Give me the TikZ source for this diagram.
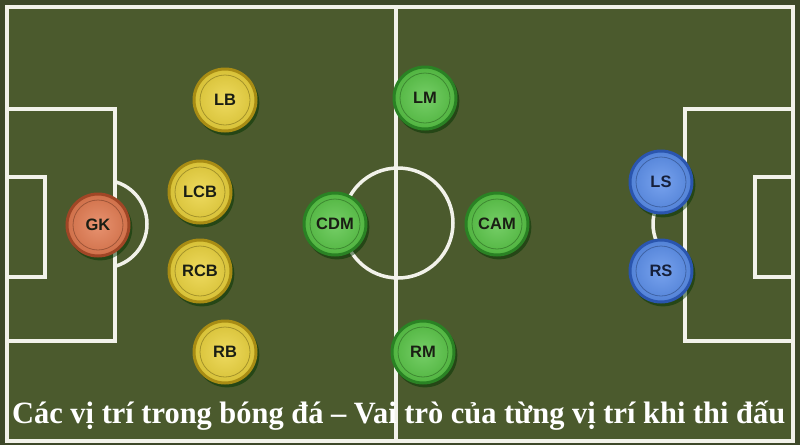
\documentclass[tikz,border=0pt]{standalone}
\usepackage{fontspec}
\usepackage{graphicx}
\setmainfont{Liberation Serif}
\newfontfamily\discfont{Liberation Sans}
\usetikzlibrary{shadows}
\definecolor{outerbg}{HTML}{3E4929}
\definecolor{fieldgreen}{HTML}{4B5A2D}
\definecolor{linewhite}{HTML}{F2F2EA}
\definecolor{yelface}{HTML}{EAD23C}
\definecolor{yelrim}{HTML}{A88C14}
\definecolor{orface}{HTML}{E27A50}
\definecolor{orrim}{HTML}{A04626}
\definecolor{grface}{HTML}{58C446}
\definecolor{grrim}{HTML}{2A8224}
\definecolor{blface}{HTML}{5A8EEA}
\definecolor{blrim}{HTML}{2A55AE}
\definecolor{disctext}{HTML}{1A1E14}
\definecolor{bltext}{HTML}{16203A}
\tikzset{
  fieldline/.style={draw=linewhite, line width=3.5pt},
  disc/.style={circle, minimum size=62pt, inner sep=0pt, line width=3pt,
    font=\discfont\bfseries\fontsize{16.5}{16.5}\selectfont, text=disctext,
    general shadow={fill=black!80!green, opacity=0.5, shadow xshift=2pt, shadow yshift=-3pt, shadow scale=1.04}},
  yel/.style={disc, draw=yelrim, inner color=yelface!82!white, outer color=yelface!92!black,
    path picture={\draw[yelface!70!black, line width=0.8pt] (path picture bounding box.center) circle[radius=25pt];}},
  ora/.style={disc, draw=orrim, inner color=orface!82!white, outer color=orface!92!black,
    path picture={\draw[orface!70!black, line width=0.8pt] (path picture bounding box.center) circle[radius=25pt];}},
  gre/.style={disc, draw=grrim, inner color=grface!82!white, outer color=grface!92!black,
    path picture={\draw[grface!70!black, line width=0.8pt] (path picture bounding box.center) circle[radius=25pt];}},
  blu/.style={disc, draw=blrim, inner color=blface!82!white, outer color=blface!92!black, text=bltext,
    path picture={\draw[blface!70!black, line width=0.8pt] (path picture bounding box.center) circle[radius=25pt];}},
  caption/.style={text=white, font=\bfseries\fontsize{31}{31}\selectfont, inner sep=0pt, anchor=base west}
}
\begin{document}
\begin{tikzpicture}[x=1pt,y=-1pt]
\useasboundingbox (0,0) rectangle (800,445);
\fill[outerbg] (0,0) rectangle (800,445);
\fill[fieldgreen] (7,7) rectangle (793,441);
% pitch markings
\draw[fieldline] (7,7) rectangle (793,441);
\draw[fieldline] (396,7) -- (396,441);
\draw[fieldline] (398,223) circle[radius=55];
\draw[fieldline] (7,109) rectangle (115,341);
\draw[fieldline] (7,177) rectangle (45,277);
\draw[fieldline] (793,109) rectangle (685,341);
\draw[fieldline] (793,177) rectangle (755,277);
\begin{scope}
  \clip (115,150) rectangle (170,300);
  \draw[fieldline] (103,224) circle[radius=44];
\end{scope}
\begin{scope}
  \clip (630,150) rectangle (685,300);
  \draw[fieldline] (697,224) circle[radius=44];
\end{scope}
% players
\node[ora] (gk) at (98,225) {GK};
\node[yel] (lb) at (225,100) {LB};
\node[yel] (lcb) at (200,192) {LCB};
\node[yel] (rcb) at (200,271) {RCB};
\node[yel] (rb) at (225,352) {RB};
\node[gre] (lm) at (425,98) {LM};
\node[gre] (cdm) at (335,224) {CDM};
\node[gre] (cam) at (497,224) {CAM};
\node[gre] (rm) at (423,352) {RM};
\node[blu] (ls) at (661,182) {LS};
\node[blu] (rs) at (661,271) {RS};
% caption
\node[caption] (cap) at (12,423) {\resizebox{773pt}{\height}{Các vị trí trong bóng đá – Vai trò của từng vị trí khi thi đấu}};
\end{tikzpicture}
\end{document}
